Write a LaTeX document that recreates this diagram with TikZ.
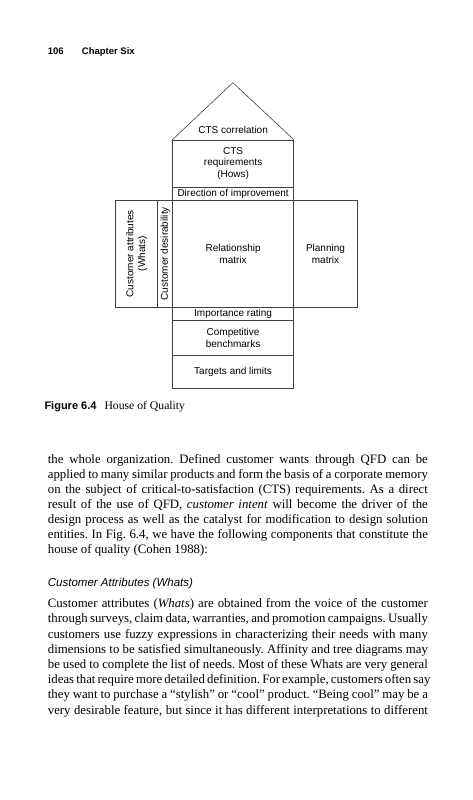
\documentclass[tikz,border=0pt]{standalone}
\usepackage{fontspec}
\setmainfont{Liberation Serif}
\setsansfont{Liberation Sans}
\begin{document}
\frenchspacing
\begin{tikzpicture}[x=1pt,y=-1pt,
  cell/.style={draw=black!75, line width=0.6pt, rectangle, inner sep=0pt, align=center,
    font=\sffamily\fontsize{10}{11.7}\selectfont},
  roofline/.style={draw=black!75, line width=0.6pt},
  txt/.style={inner sep=0pt, anchor=base west, font=\fontsize{12.8}{15.2}\selectfont},
  hdr/.style={inner sep=0pt, anchor=base west, font=\sffamily\bfseries\fontsize{9.5}{11}\selectfont}]
\useasboundingbox (0,0) rectangle (472,800);
% header
\node[hdr] (pg) at (47.7,54.5) {106};
\node[hdr] (ch) at (81.7,54.5) {Chapter Six};
% house of quality
\coordinate (apex) at (232.9,82.7);
\node[cell, minimum width=120.8pt, minimum height=47pt] (req) at (233.1,163.5) {CTS\\requirements\\(Hows)};
\draw[roofline] (req.north west) -- (apex) -- (req.north east);
\node[inner sep=0pt, font=\sffamily\fontsize{10}{11.7}\selectfont] (corr) at (233.1,129.5) {CTS correlation};
\node[cell, minimum width=120.8pt, minimum height=13pt] (dir) at (233.1,193.5) {Direction of improvement};
\node[cell, minimum width=120.8pt, minimum height=107.5pt] (rel) at (233.1,253.75) {Relationship\\matrix};
\node[cell, rotate=90, minimum width=107.5pt, minimum height=42pt] (cattr) at (136.7,253.75) {Customer attributes\\(Whats)};
\node[cell, rotate=90, minimum width=107.5pt, minimum height=15pt] (cdes) at (165.2,253.75) {Customer desirability};
\node[cell, minimum width=64pt, minimum height=107.5pt] (plan) at (325.5,253.75) {Planning\\matrix};
\node[cell, minimum width=120.8pt, minimum height=13pt] (imp) at (233.1,314) {Importance rating};
\node[cell, minimum width=120.8pt, minimum height=34.5pt] (comp) at (233.1,337.75) {Competitive\\benchmarks};
\node[cell, minimum width=120.8pt, minimum height=33.3pt] (targ) at (233.1,371.65) {Targets and limits};
% caption
\node[inner sep=0pt, anchor=base west, font=\sffamily\bfseries\fontsize{11}{13}\selectfont] (figlab) at (44.3,409.5) {Figure 6.4};
\node[inner sep=0pt, anchor=base west, font=\fontsize{11.7}{13}\selectfont] (figtit) at (104.3,409.5) {House of Quality};
% paragraph 1
\node[txt] (a1) at (47.7,463.2) {\makebox[380pt][s]{the whole organization. Defined customer wants through QFD can be}};
\node[txt] (a2) at (47.7,478.3) {\makebox[380pt][s]{applied to many similar products and form the basis of a corporate memory}};
\node[txt] (a3) at (47.7,493.4) {\makebox[380pt][s]{on the subject of critical-to-satisfaction (CTS) requirements. As a direct}};
\node[txt] (a4) at (47.7,508.5) {\makebox[380pt][s]{result of the use of QFD, \textit{customer intent} will become the driver of the}};
\node[txt] (a5) at (47.7,523.6) {\makebox[380pt][s]{design process as well as the catalyst for modification to design solution}};
\node[txt] (a6) at (47.7,538.7) {\makebox[380pt][s]{entities. In Fig. 6.4, we have the following components that constitute the}};
\node[txt] (a7) at (47.7,553.8) {house of quality (Cohen 1988):};
% heading
\node[inner sep=0pt, anchor=base west, font=\sffamily\itshape\fontsize{11.5}{13}\selectfont] (head) at (47.7,586.7) {Customer Attributes (Whats)};
% paragraph 2
\node[txt] (b1) at (47.7,607.6) {\makebox[380pt][s]{Customer attributes (\textit{Whats}) are obtained from the voice of the customer}};
\node[txt] (b2) at (47.7,622.8) {\makebox[380pt][s]{through surveys, claim data, warranties, and promotion campaigns. Usually}};
\node[txt] (b3) at (47.7,638.0) {\makebox[380pt][s]{customers use fuzzy expressions in characterizing their needs with many}};
\node[txt] (b4) at (47.7,653.2) {\makebox[380pt][s]{dimensions to be satisfied simultaneously. Affinity and tree diagrams may}};
\node[txt] (b5) at (47.7,668.4) {\makebox[380pt][s]{be used to complete the list of needs. Most of these Whats are very general}};
\node[txt] (b6) at (47.7,683.6) {\makebox[380pt][s]{ideas that require more detailed definition. For example, customers often say}};
\node[txt] (b7) at (47.7,698.8) {\makebox[380pt][s]{they want to purchase a ``stylish'' or ``cool'' product. ``Being cool'' may be a}};
\node[txt] (b8) at (47.7,714.0) {\makebox[380pt][s]{very desirable feature, but since it has different interpretations to different}};
\end{tikzpicture}
\end{document}
